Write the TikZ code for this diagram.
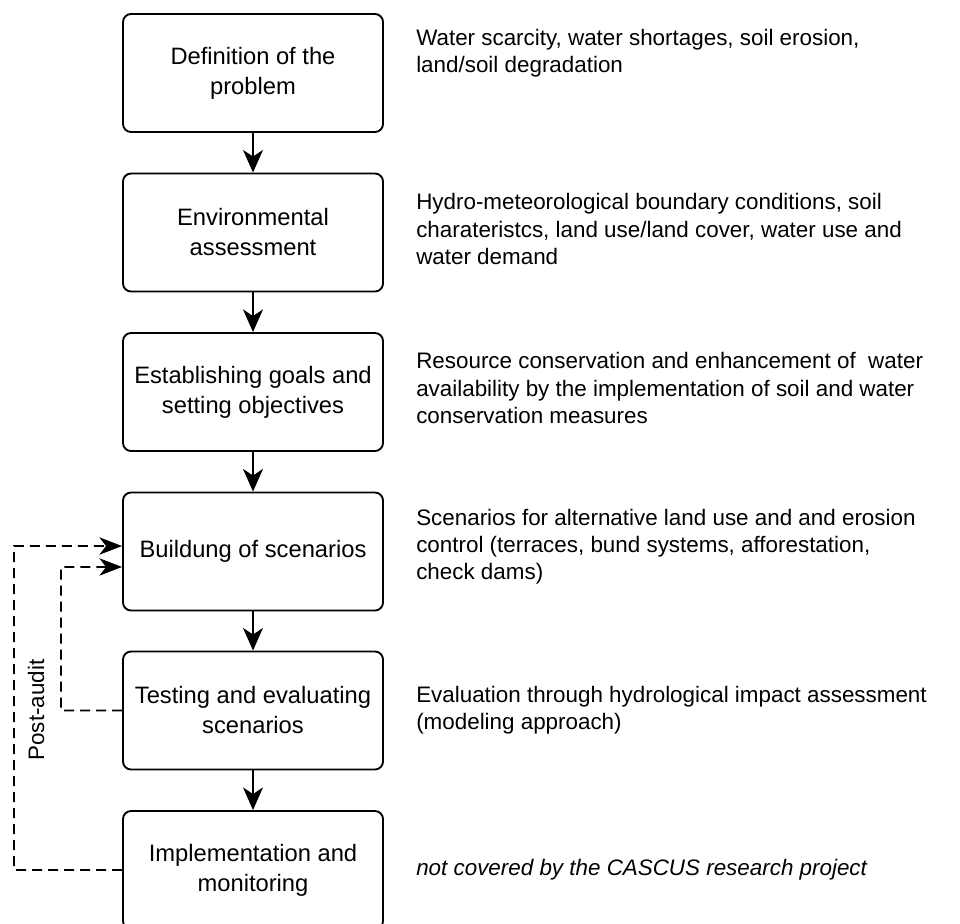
\documentclass[tikz,border=0pt]{standalone}
\usepackage{fontspec}
\setmainfont{Liberation Sans}
\usepackage{tikz}
\usetikzlibrary{arrows.meta}
\tikzstyle{stage}=[
        draw, line width=1.4pt, rounded corners=6pt,
        minimum width=195pt, minimum height=88.5pt,
        inner sep=0pt, align=center,
        font=\fontsize{17.8}{22.5}\selectfont
]
\tikzstyle{note}=[
        anchor=west, inner sep=0pt, align=left,
        font=\fontsize{16.8}{20.3}\selectfont
]
\tikzstyle{flow}=[
        line width=1.4pt, -{Stealth[length=17pt,width=15pt,inset=5pt]}
]
\tikzstyle{audit}=[
        line width=1.4pt, dash pattern=on 7.5pt off 4.5pt,
        -{Stealth[length=17pt,width=13pt,inset=5pt]}
]

\begin{document}
\begin{tikzpicture}[x=0.75pt,y=-0.75pt,font=\fontsize{16.8}{20.3}\selectfont]
                        \useasboundingbox (0,0) rectangle (960,924);

                        \node[stage] (defn) at (253,73) {Definition of the\\problem};
                        \node[stage] (assess) at (253,232.5) {Environmental\\assessment};
                        \node[stage] (goals) at (253,392) {Establishing goals and\\setting objectives};
                        \node[stage] (scen) at (253,551.5) {Buildung of scenarios};
                        \node[stage] (test) at (253,710.5) {Testing and evaluating\\scenarios};
                        \node[stage] (impl) at (253,870) {Implementation and\\monitoring};

                        \node[note] (defnnote) at (416,53) {Water scarcity, water shortages, soil erosion,\\land/soil degradation};
                        \node[note] (assessnote) at (416,229) {Hydro-meteorological boundary conditions, soil\\charateristcs, land use/land cover, water use and\\water demand};
                        \node[note] (goalsnote) at (416,388) {Resource conservation and enhancement of\ \ water\\availability by the implementation of soil and water\\conservation measures};
                        \node[note] (scennote) at (416,547) {Scenarios for alternative land use and and erosion\\control (terraces, bund systems, afforestation,\\check dams)};
                        \node[note] (testnote) at (416,710) {Evaluation through hydrological impact assessment\\(modeling approach)};
                        \node[note,font=\fontsize{16.8}{20.3}\selectfont\itshape] (implnote) at (416,870) {not covered by the CASCUS research project};

                        \draw[flow] (defn) -- (assess);
                        \draw[flow] (assess) -- (goals);
                        \draw[flow] (goals) -- (scen);
                        \draw[flow] (scen) -- (test);
                        \draw[flow] (test) -- (impl);

                        \coordinate (outerbend) at (14,546);
                        \coordinate (innerbend) at (61,567);
                        \draw[audit] (impl.west) -| (outerbend) -- ([yshift=4.1pt]scen.west);
                        \draw[audit] (test.west) -| (innerbend) -- ([yshift=-11.6pt]scen.west);

                        \node[rotate=90] (postaudit) at (36,710) {Post-audit};

                    \end{tikzpicture}
\end{document}
